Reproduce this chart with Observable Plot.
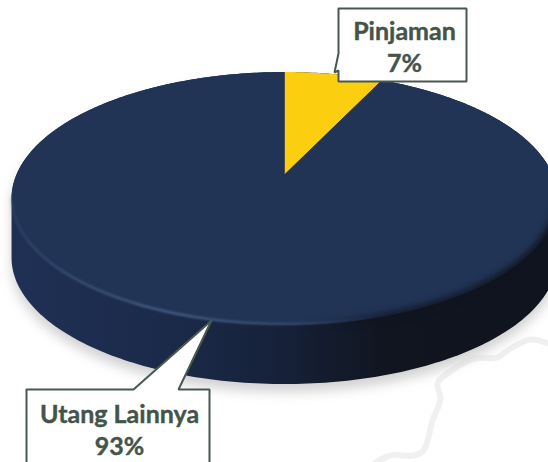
<!DOCTYPE html>
<html><head><meta charset="utf-8">
<style>html,body{margin:0;padding:0;background:#fff;overflow:hidden}svg{display:block}</style>
<script src="https://cdn.jsdelivr.net/npm/d3@7"></script>
<script src="https://cdn.jsdelivr.net/npm/@observablehq/plot@0.6"></script>
</head><body><script>
// Data
const categories = ["Pinjaman", "Utang Lainnya"];
const shares = [7, 93];
const sliceColors = ["#fbce0f", "#213456"];
const labelTexts = ["Pinjaman\n7%", "Utang Lainnya\n93%"];

// Disc geometry (in picture units)
const cx = 284, cy = 198, kx = 268, ry = 126.5, apexShift = 24, persp = 0.19, depth = 59;
const project = (t, r = 1) => {
  const u = r * Math.sin(t), v = r * Math.cos(t), d = persp * v + 1;
  return {x: cx + kx * u / d, y: cy - (ry * v + apexShift) / d};
};
const N = 360;
const rim = d3.range(N + 1).map(i => project(2 * Math.PI * i / N));
const iR = d3.greatestIndex(rim, d => d.x), iL = d3.leastIndex(rim, d => d.x);
const wall = [
  ...rim.slice(0, iR + 1),
  ...rim.slice(iR, iL + 1).map(d => ({x: d.x, y: d.y + depth})),
  ...rim.slice(iL)
];
const shadow = wall.map(d => ({x: d.x, y: d.y + 8}));

// Pie slices from the shares
const total = d3.sum(shares);
let acc = 0;
const slices = shares.flatMap((s, k) => {
  const a0 = 2 * Math.PI * acc / total; acc += s;
  const a1 = 2 * Math.PI * acc / total;
  const n = Math.max(2, Math.round((a1 - a0) * 90));
  return [project(0, 0), ...d3.range(n + 1).map(i => project(a0 + (a1 - a0) * i / n))]
    .map(p => ({...p, part: categories[k]}));
});
const frontArc = rim.slice(iR, iL + 1);

// Background map outline (decorative)
const mapX = [548, 530, 510, 497, 473, 447, 437, 440, 432, 423, 413, 390, 375];
const mapY = [343, 339, 348, 357, 358, 373, 383, 398, 420, 450, 455, 455, 462];
const mapLine = mapX.map((x, i) => ({x, y: mapY[i]}));

// Callouts
const boxPinjamanX = [338, 466, 466, 338, 338, 334, 338, 338];
const boxPinjamanY = [8, 8, 81, 81, 70, 72, 53, 8];
const boxUtangX = [26, 133, 211, 178, 209, 209, 26, 26];
const boxUtangY = [389, 389, 320, 389, 389, 470, 470, 389];
const toPts = (xs, ys) => xs.map((x, i) => ({x, y: ys[i]}));
const labels = [
  {x: 404, y: 45, text: labelTexts[0]},
  {x: 119, y: 428, text: labelTexts[1]}
];

const wallStops = [[0, "#1f3055"], [0.3, "#1b2a49"], [0.5, "#162139"], [0.7, "#10151f"], [1, "#0f141f"]];
const glowStops = [[0, "#4a6088", 0.25], [0.1, "#4a6088", 0.55], [0.3, "#4a6088", 0.9], [0.5, "#4a6088", 0.5], [0.68, "#4a6088", 0], [1, "#4a6088", 0]];
const darkStops = [[0.55, "#0f141f", 0], [0.7, "#0f141f", 0.8], [1, "#0f141f", 1]];
const grad = (id, stops) =>
  `<linearGradient id="${id}" gradientUnits="userSpaceOnUse" x1="11" y1="0" x2="548" y2="0">` +
  stops.map(s => `<stop offset="${s[0]}" stop-color="${s[1]}" stop-opacity="${s[2] ?? 1}"/>`).join("") +
  `</linearGradient>`;
const defs = () => {
  const g = document.createElementNS("http://www.w3.org/2000/svg", "defs");
  g.innerHTML = grad("wallFill", wallStops) + grad("glow", glowStops) + grad("dark", darkStops);
  return g;
};
const xy = {x: "x", y: "y"};

const chart = Plot.plot({
  width: 548, height: 462, margin: 0,
  x: {domain: [0, 548], range: [0, 548], axis: null},
  y: {domain: [0, 462], range: [0, 462], axis: null},
  color: {domain: categories, range: sliceColors},
  marks: [
    defs,
    Plot.line(mapLine, {...xy, stroke: "#f0f0f0", strokeWidth: 6, curve: "catmull-rom", imageFilter: "blur(0.6px)"}),
    Plot.line(shadow, {...xy, fill: "#d2d2d2", stroke: "none", imageFilter: "blur(6px)"}),
    Plot.line(wall, {...xy, fill: "url(#wallFill)", stroke: "none"}),
    Plot.line(slices, {...xy, z: "part", fill: "part", stroke: "none"}),
    Plot.line(frontArc, {...xy, stroke: "url(#dark)", strokeWidth: 7, imageFilter: "blur(3px)"}),
    Plot.line(frontArc.map(d => ({x: d.x, y: d.y - 1})), {...xy, stroke: "url(#glow)", strokeWidth: 2.5, imageFilter: "blur(1.2px)"}),
    Plot.line(toPts(boxPinjamanX, boxPinjamanY), {...xy, fill: "white", stroke: "#47594f", strokeWidth: 2, strokeLinejoin: "miter"}),
    Plot.line(toPts(boxUtangX, boxUtangY), {...xy, fill: "white", stroke: "#47594f", strokeWidth: 2, strokeLinejoin: "miter"}),
    Plot.text(labels, {...xy, text: "text", fill: "#44544a", stroke: "#44544a", strokeWidth: 0.4, fontFamily: "Lato", fontWeight: 700, fontSize: 25, lineHeight: 1.3, textAnchor: "middle"})
  ]
});
document.body.appendChild(chart);
</script></body></html>
